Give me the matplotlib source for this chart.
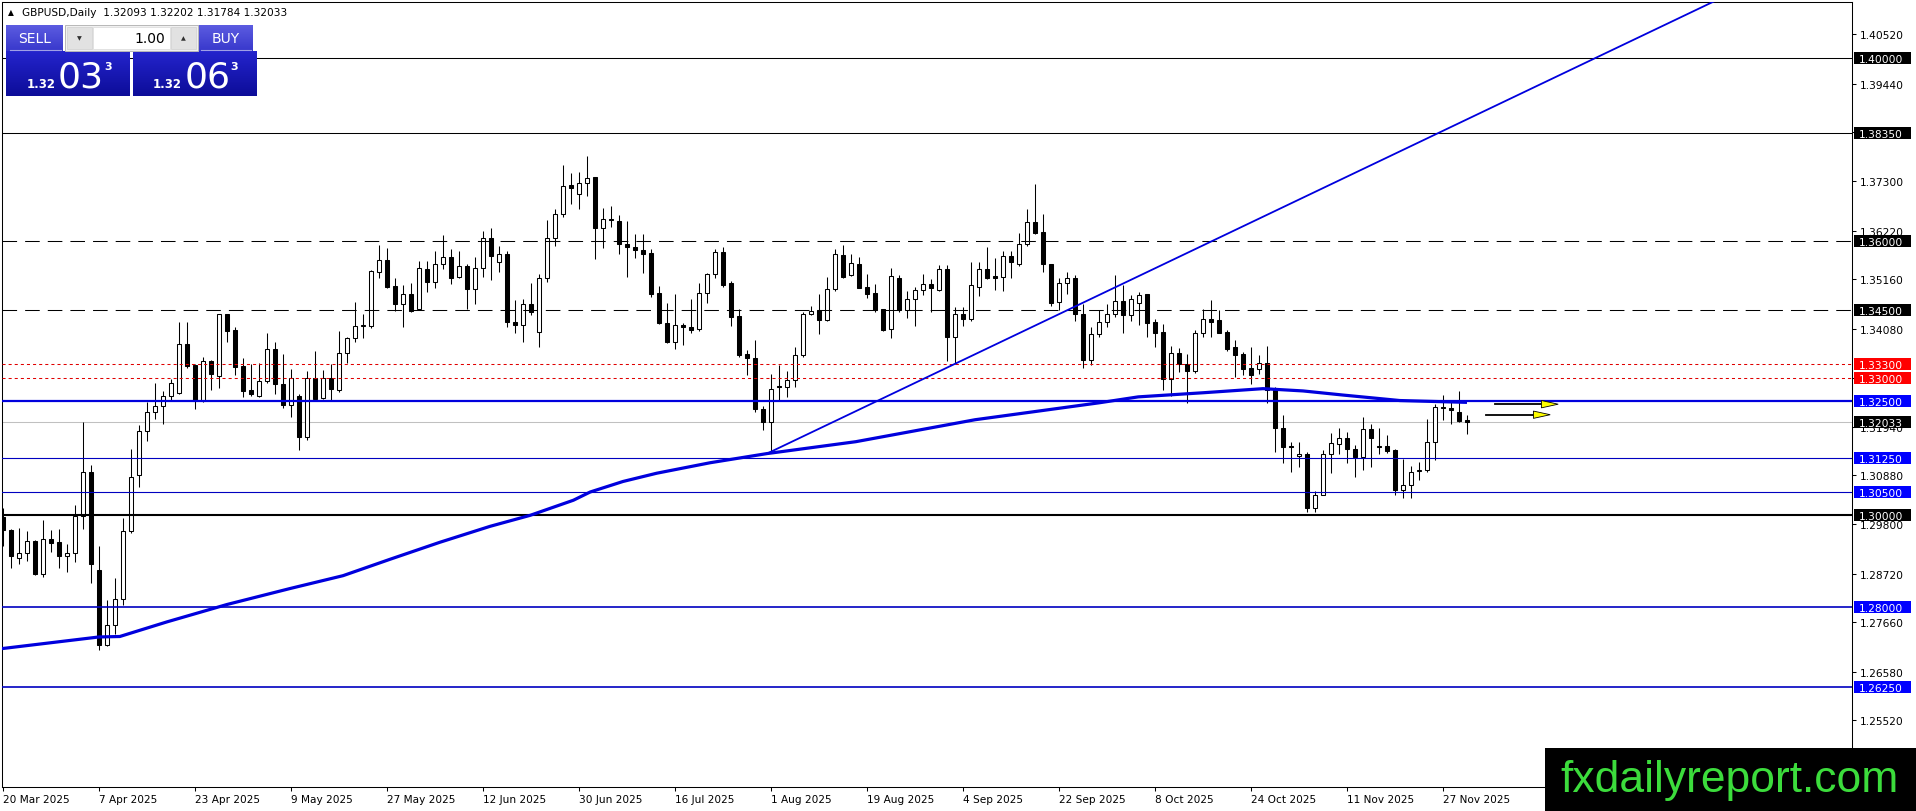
import numpy as np
import matplotlib
matplotlib.use("Agg")
import matplotlib.pyplot as plt
from matplotlib.patches import Rectangle, Polygon
from matplotlib.ticker import FormatStrFormatter

plt.rcParams['font.family'] = ['DejaVu Sans']
plt.rcParams['lines.scale_dashes'] = False

# GBPUSD daily candles, bar 0 = 20 Mar 2025 (weekdays only)
opens = [
    1.2996, 1.2967, 1.2907, 1.2918, 1.2943, 1.2872, 1.2949, 1.2942, 1.2911, 1.2918, 1.2998, 1.3095,
    1.2880, 1.2717, 1.2761, 1.2818, 1.2966, 1.3089, 1.3185, 1.3227, 1.3238, 1.3261, 1.3268, 1.3374,
    1.3328, 1.3250, 1.3337, 1.3305, 1.3440, 1.3405, 1.3326, 1.3273, 1.3262, 1.3293, 1.3364, 1.3288,
    1.3242, 1.3262, 1.3171, 1.3300, 1.3256, 1.3300, 1.3275, 1.3355, 1.3388, 1.3414, 1.3413, 1.3531,
    1.3558, 1.3502, 1.3463, 1.3485, 1.3452, 1.3538, 1.3511, 1.3549, 1.3564, 1.3521, 1.3545, 1.3494,
    1.3540, 1.3606, 1.3553, 1.3571, 1.3423, 1.3416, 1.3462, 1.3400, 1.3519, 1.3607, 1.3658, 1.3722,
    1.3702, 1.3727, 1.3739, 1.3629, 1.3649, 1.3643, 1.3594, 1.3587, 1.3580, 1.3574, 1.3487, 1.3420,
    1.3379, 1.3417, 1.3411, 1.3408, 1.3486, 1.3528, 1.3576, 1.3507, 1.3435, 1.3352, 1.3345, 1.3232,
    1.3203, 1.3282, 1.3280, 1.3296, 1.3350, 1.3441, 1.3448, 1.3427, 1.3495, 1.3570, 1.3525, 1.3549,
    1.3500, 1.3486, 1.3451, 1.3408, 1.3519, 1.3449, 1.3473, 1.3493, 1.3506, 1.3493, 1.3538, 1.3389,
    1.3440, 1.3429, 1.3500, 1.3538, 1.3524, 1.3522, 1.3567, 1.3549, 1.3593, 1.3641, 1.3620, 1.3549,
    1.3466, 1.3507, 1.3520, 1.3440, 1.3340, 1.3397, 1.3422, 1.3440, 1.3469, 1.3437, 1.3465, 1.3483,
    1.3422, 1.3401, 1.3299, 1.3354, 1.3330, 1.3316, 1.3398, 1.3430, 1.3427, 1.3400, 1.3367, 1.3352,
    1.3322, 1.3321, 1.3332, 1.3275, 1.3190, 1.3151, 1.3129, 1.3135, 1.3017, 1.3045, 1.3133, 1.3155,
    1.3169, 1.3146, 1.3128, 1.3188, 1.3151, 1.3151, 1.3142, 1.3055, 1.3067, 1.3096, 1.3100, 1.3161,
    1.3237, 1.3234, 1.3225, 1.32093,
]
highs = [
    1.3015, 1.2969, 1.2973, 1.2965, 1.2945, 1.2990, 1.2967, 1.2971, 1.2938, 1.3023, 1.3204, 1.3111,
    1.2932, 1.2814, 1.2862, 1.2995, 1.3144, 1.3198, 1.3247, 1.3290, 1.3271, 1.3299, 1.3422, 1.3422,
    1.3330, 1.3346, 1.3340, 1.3441, 1.3441, 1.3412, 1.3343, 1.3330, 1.3333, 1.3399, 1.3378, 1.3353,
    1.3320, 1.3265, 1.3315, 1.3359, 1.3318, 1.3331, 1.3402, 1.3390, 1.3467, 1.3441, 1.3536, 1.3591,
    1.3584, 1.3519, 1.3504, 1.3508, 1.3556, 1.3556, 1.3577, 1.3613, 1.3582, 1.3578, 1.3550, 1.3564,
    1.3622, 1.3629, 1.3590, 1.3577, 1.3471, 1.3473, 1.3508, 1.3527, 1.3645, 1.3669, 1.3767, 1.3749,
    1.3750, 1.3785, 1.3740, 1.3671, 1.3676, 1.3657, 1.3643, 1.3616, 1.3615, 1.3582, 1.3501, 1.3464,
    1.3484, 1.3420, 1.3473, 1.3507, 1.3530, 1.3582, 1.3587, 1.3512, 1.3451, 1.3361, 1.3384, 1.3240,
    1.3310, 1.3328, 1.3315, 1.3367, 1.3444, 1.3457, 1.3485, 1.3522, 1.3582, 1.3591, 1.3571, 1.3565,
    1.3527, 1.3506, 1.3452, 1.3540, 1.3525, 1.3491, 1.3500, 1.3527, 1.3517, 1.3548, 1.3547, 1.3456,
    1.3456, 1.3553, 1.3554, 1.3587, 1.3562, 1.3578, 1.3578, 1.3617, 1.3669, 1.3725, 1.3658, 1.3549,
    1.3518, 1.3533, 1.3525, 1.3462, 1.3411, 1.3449, 1.3462, 1.3526, 1.3504, 1.3482, 1.3489, 1.3485,
    1.3430, 1.3418, 1.3370, 1.3365, 1.3352, 1.3406, 1.3452, 1.3470, 1.3449, 1.3405, 1.3383, 1.3357,
    1.3367, 1.3350, 1.3370, 1.3281, 1.3219, 1.3161, 1.3161, 1.3139, 1.3053, 1.3142, 1.3179, 1.3190,
    1.3182, 1.3153, 1.3214, 1.3199, 1.3191, 1.3175, 1.3145, 1.3124, 1.3107, 1.3117, 1.3210, 1.3243,
    1.3264, 1.3251, 1.3272, 1.32202,
]
lows = [
    1.2934, 1.2885, 1.2893, 1.2900, 1.2870, 1.2865, 1.2920, 1.2885, 1.2876, 1.2898, 1.2969, 1.2852,
    1.2706, 1.2715, 1.2741, 1.2803, 1.2962, 1.3062, 1.3162, 1.3211, 1.3200, 1.3251, 1.3266, 1.3323,
    1.3232, 1.3248, 1.3273, 1.3279, 1.3379, 1.3306, 1.3259, 1.3260, 1.3259, 1.3290, 1.3266, 1.3235,
    1.3215, 1.3143, 1.3165, 1.3252, 1.3254, 1.3252, 1.3269, 1.3332, 1.3378, 1.3388, 1.3410, 1.3520,
    1.3497, 1.3446, 1.3412, 1.3445, 1.3450, 1.3489, 1.3498, 1.3538, 1.3505, 1.3519, 1.3452, 1.3462,
    1.3521, 1.3514, 1.3531, 1.3412, 1.3399, 1.3380, 1.3438, 1.3367, 1.3511, 1.3589, 1.3652, 1.3680,
    1.3670, 1.3698, 1.3560, 1.3584, 1.3630, 1.3572, 1.3522, 1.3562, 1.3529, 1.3478, 1.3418, 1.3377,
    1.3363, 1.3372, 1.3398, 1.3403, 1.3464, 1.3520, 1.3499, 1.3414, 1.3346, 1.3306, 1.3227, 1.3187,
    1.3140, 1.3252, 1.3258, 1.3280, 1.3346, 1.3439, 1.3397, 1.3426, 1.3491, 1.3520, 1.3523, 1.3497,
    1.3475, 1.3444, 1.3402, 1.3387, 1.3444, 1.3431, 1.3413, 1.3482, 1.3444, 1.3491, 1.3337, 1.3331,
    1.3413, 1.3424, 1.3479, 1.3517, 1.3493, 1.3491, 1.3520, 1.3546, 1.3590, 1.3616, 1.3531, 1.3458,
    1.3449, 1.3484, 1.3424, 1.3323, 1.3328, 1.3391, 1.3411, 1.3433, 1.3398, 1.3426, 1.3416, 1.3390,
    1.3368, 1.3275, 1.3260, 1.3314, 1.3246, 1.3311, 1.3390, 1.3389, 1.3398, 1.3360, 1.3303, 1.3306,
    1.3287, 1.3310, 1.3246, 1.3139, 1.3115, 1.3095, 1.3106, 1.3008, 1.3008, 1.3044, 1.3093, 1.3135,
    1.3115, 1.3083, 1.3100, 1.3106, 1.3135, 1.3137, 1.3044, 1.3037, 1.3037, 1.3078, 1.3095, 1.3121,
    1.3208, 1.3199, 1.3203, 1.31784,
]
closes = [
    1.2967, 1.2912, 1.2918, 1.2943, 1.2872, 1.2949, 1.2940, 1.2911, 1.2918, 1.2998, 1.3095, 1.2894,
    1.2717, 1.2761, 1.2818, 1.2966, 1.3084, 1.3185, 1.3227, 1.3238, 1.3261, 1.3290, 1.3375, 1.3326,
    1.3250, 1.3337, 1.3308, 1.3440, 1.3403, 1.3324, 1.3272, 1.3265, 1.3293, 1.3364, 1.3288, 1.3242,
    1.3300, 1.3171, 1.3300, 1.3254, 1.3300, 1.3276, 1.3355, 1.3388, 1.3415, 1.3416, 1.3535, 1.3558,
    1.3500, 1.3463, 1.3485, 1.3447, 1.3540, 1.3511, 1.3549, 1.3564, 1.3520, 1.3545, 1.3494, 1.3540,
    1.3607, 1.3568, 1.3571, 1.3422, 1.3416, 1.3462, 1.3444, 1.3519, 1.3607, 1.3658, 1.3721, 1.3715,
    1.3727, 1.3738, 1.3629, 1.3649, 1.3645, 1.3594, 1.3586, 1.3580, 1.3572, 1.3484, 1.3420, 1.3378,
    1.3417, 1.3411, 1.3406, 1.3486, 1.3528, 1.3576, 1.3504, 1.3433, 1.3350, 1.3345, 1.3232, 1.3203,
    1.3277, 1.3280, 1.3296, 1.3350, 1.3441, 1.3446, 1.3427, 1.3495, 1.3571, 1.3522, 1.3551, 1.3498,
    1.3485, 1.3449, 1.3405, 1.3523, 1.3449, 1.3473, 1.3493, 1.3506, 1.3498, 1.3538, 1.3389, 1.3440,
    1.3429, 1.3503, 1.3538, 1.3520, 1.3520, 1.3567, 1.3553, 1.3593, 1.3641, 1.3618, 1.3549, 1.3464,
    1.3507, 1.3520, 1.3440, 1.3340, 1.3397, 1.3422, 1.3440, 1.3469, 1.3437, 1.3473, 1.3481, 1.3421,
    1.3399, 1.3299, 1.3354, 1.3330, 1.3316, 1.3398, 1.3430, 1.3423, 1.3399, 1.3363, 1.3350, 1.3320,
    1.3307, 1.3332, 1.3275, 1.3190, 1.3150, 1.3150, 1.3135, 1.3017, 1.3045, 1.3133, 1.3158, 1.3169,
    1.3144, 1.3128, 1.3188, 1.3170, 1.3150, 1.3141, 1.3055, 1.3067, 1.3095, 1.3100, 1.3161, 1.3237,
    1.3235, 1.3230, 1.3207, 1.32033,
]

# moving average (thick blue curve), read at a few bars
ma_bars = [-0.4, 12, 14.6, 20.5, 28, 35.9, 42.5, 48.4, 54.6, 60.9, 65.9, 71.3, 73.4, 77.5,
           81.7, 88.4, 95.5, 106.6, 121.5, 137, 141.9, 150, 157.5, 162.5, 167.5, 174.6, 183]
ma_values = [1.2708, 1.2734, 1.2735, 1.2767, 1.2805, 1.2840, 1.2868, 1.2904, 1.2941, 1.2976,
             1.3000, 1.3033, 1.3051, 1.3074, 1.3092, 1.3115, 1.3135, 1.3161, 1.3209, 1.3246,
             1.3259, 1.3268, 1.3277, 1.3272, 1.3263, 1.3251, 1.3247]

# rising trend line from the 1 Aug low
trend_bars = [95.5, 220.0]
trend_values = [1.3135, 1.4175]

# horizontal levels
level_prices = [1.40000, 1.38350, 1.36000, 1.34500, 1.33300, 1.33000, 1.32500,
                1.31250, 1.30500, 1.30000, 1.28000, 1.26250]
bid_price = 1.32033
ask_price = 1.32063

price_ticks = [1.40520, 1.39440, 1.38380, 1.37300, 1.36220, 1.35160, 1.34080, 1.33000,
               1.31940, 1.30880, 1.29800, 1.28720, 1.27660, 1.26580, 1.25520]
date_bars = [0, 12, 24, 36, 48, 60, 72, 84, 96, 108, 120, 132, 144, 156, 168, 180]
date_labels = ['20 Mar 2025', '7 Apr 2025', '23 Apr 2025', '9 May 2025', '27 May 2025',
               '12 Jun 2025', '30 Jun 2025', '16 Jul 2025', '1 Aug 2025', '19 Aug 2025',
               '4 Sep 2025', '22 Sep 2025', '8 Oct 2025', '24 Oct 2025', '11 Nov 2025',
               '27 Nov 2025']

# the two yellow arrows to the right of the last candle
arrow_from = [186.5, 185.4]
arrow_to = [194.4, 193.4]
arrow_prices = [1.3243, 1.3220]

# styles per level: line colour, width, dashes, label box colour
BLUE = '#0000dd'
NAVY = '#0000c0'
level_style = {
    1.40000: ('black', 0.75, None, 'black'),
    1.38350: ('black', 0.75, None, 'black'),
    1.36000: ('black', 0.75, (10.5, 5.8), 'black'),
    1.34500: ('black', 0.75, (10.5, 5.8), 'black'),
    1.33300: ('#e00000', 0.75, (2.2, 2.2), '#ff0000'),
    1.33000: ('#e00000', 0.75, (2.2, 2.2), '#ff0000'),
    1.32500: (BLUE, 1.6, None, '#0000ff'),
    1.31250: (NAVY, 0.8, None, '#0000ff'),
    1.30500: (NAVY, 0.8, None, '#0000ff'),
    1.30000: ('black', 1.5, None, 'black'),
    1.28000: (NAVY, 1.2, None, '#0000ff'),
    1.26250: (NAVY, 1.2, None, '#0000ff'),
}

W, H, DPI = 1916, 812, 100
fig = plt.figure(figsize=(W / DPI, H / DPI), dpi=DPI, facecolor='white')

# chart area in pixels: x 2..1852, y 3..788 ; 8 px per bar
PL, PR, PT, PB = 2, 1852, 3, 788
ax = fig.add_axes([PL / W, 1 - PB / H, (PR - PL) / W, (PB - PT) / H])

x = np.arange(len(closes))
o, h, l, c = (np.array(v) for v in (opens, highs, lows, closes))
up = c >= o
ax.vlines(x, l, h, color='black', lw=0.75, zorder=2)
body_lo = np.minimum(o, c)
body_h = np.maximum(np.abs(c - o), 0.00002)
ax.bar(x, body_h, bottom=body_lo, width=0.5, color=np.where(up, 'white', 'black'),
       edgecolor='black', linewidth=0.75, zorder=3)

ax.axhline(bid_price, color='#c0c0c0', lw=0.75, zorder=1)
for p in level_prices:
    col, lw, dash, _ = level_style[p]
    line = ax.axhline(p, color=col, lw=lw, zorder=4)
    if dash is not None:
        line.set_dashes(dash)

ax.plot(ma_bars, ma_values, color=BLUE, lw=2.3, zorder=5, solid_capstyle='butt')
ax.plot(trend_bars, trend_values, color=BLUE, lw=1.3, zorder=5)

for x0, x1, p in zip(arrow_from, arrow_to, arrow_prices):
    ax.plot([x0, x1 - 2.0], [p, p], color='black', lw=1.3, zorder=6)
    ax.add_patch(Polygon([[x1 - 2.1, p + 0.0008], [x1, p], [x1 - 2.1, p - 0.0008]],
                         closed=True, facecolor='#ffff00', edgecolor='black', lw=0.6, zorder=7))

ax.yaxis.tick_right()
ax.set_yticks(price_ticks)
ax.yaxis.set_major_formatter(FormatStrFormatter('%.5f'))
ax.tick_params(axis='y', direction='out', length=3, width=0.75, pad=2.5, labelsize=7.7)
ax.set_xticks(date_bars)
ax.set_xticklabels(date_labels, ha='left')
ax.tick_params(axis='x', direction='out', length=3, width=0.75, pad=2, labelsize=7.6)
for sp in ax.spines.values():
    sp.set_linewidth(0.75)
ax.set_xlim(-0.125, 231.125)
ax.set_ylim(1.24059, 1.41225)

# overlay in pixel coordinates for labels, trade panel and watermark
ov = fig.add_axes([0, 0, 1, 1], zorder=10)
ov.axis('off')


def px_y(price):
    return H - ax.transData.transform((0, price))[1]


for p in level_prices + [bid_price]:
    box = level_style[p][3] if p in level_style else 'black'
    y = px_y(p)
    ov.add_patch(Rectangle((1854, y - 6), 57, 12, facecolor=box, edgecolor='none', zorder=11))
    ov.text(1858.5, y, f"{p:.5f}", color='white', fontsize=7.7, va='center_baseline',
            ha='left', zorder=12)

ov.text(11, 12.5, '\u25b2', fontsize=5.5, ha='center', va='center')
ov.text(22, 13, f"GBPUSD,Daily  {opens[-1]:.5f} {highs[-1]:.5f} {lows[-1]:.5f} {closes[-1]:.5f}",
        fontsize=7.6, va='center', ha='left')


def grad_box(x0, y0, x1, y1, top, bottom):
    g = np.linspace(0, 1, 32)[:, None, None]
    img = (1 - g) * np.array(top)[None, None, :] + g * np.array(bottom)[None, None, :]
    ov.imshow(img, extent=(x0, x1, y1, y0), origin='upper', aspect='auto',
              interpolation='bilinear', zorder=11)


btn_top, btn_bot = (0.36, 0.36, 0.88), (0.22, 0.22, 0.80)
big_top, big_bot = (0.14, 0.14, 0.80), (0.05, 0.05, 0.60)
grad_box(6, 26, 63, 52, btn_top, btn_bot)
grad_box(198, 26, 253, 52, btn_top, btn_bot)
grad_box(6, 52, 130, 97, big_top, big_bot)
grad_box(133, 52, 257, 97, big_top, big_bot)
ov.plot([10, 61], [50.5, 50.5], color='#a0a0e6', lw=0.8, zorder=12)
ov.plot([201, 251], [50.5, 50.5], color='#a0a0e6', lw=0.8, zorder=12)

ov.add_patch(Rectangle((65, 26), 133, 26, facecolor='#f0f0f0', edgecolor='#b8b8b8', lw=0.7, zorder=11))
ov.add_patch(Rectangle((67, 28), 25, 22, facecolor='#e2e2e2', edgecolor='#d0d0d0', lw=0.5, zorder=12))
ov.add_patch(Rectangle((171, 28), 25, 22, facecolor='#e2e2e2', edgecolor='#d0d0d0', lw=0.5, zorder=12))
ov.add_patch(Rectangle((93, 28), 77, 22, facecolor='white', edgecolor='#dadada', lw=0.5, zorder=12))
ov.text(79.5, 39, '\u25bc', fontsize=4.5, ha='center', va='center', color='#303030', zorder=13)
ov.text(183.5, 38.5, '\u25b2', fontsize=4.5, ha='center', va='center', color='#303030', zorder=13)
ov.text(165, 39, '1.00', fontsize=10, ha='right', va='center', color='black', zorder=13)
ov.text(34.5, 39, 'SELL', fontsize=10, ha='center', va='center', color='white', zorder=13)
ov.text(225.5, 39, 'BUY', fontsize=10, ha='center', va='center', color='white', zorder=13)

for quote, xs in ((bid_price, (27, 58, 104)), (ask_price, (153, 185, 230))):
    s = f"{quote:.5f}"
    ov.text(xs[0], 88, s[:4], fontsize=8.5, fontweight='bold', color='white', va='baseline', zorder=13)
    ov.text(xs[1], 88, s[4:6], fontsize=26, color='white', va='baseline', zorder=13)
    ov.text(xs[2], 70, s[6], fontsize=8, fontweight='bold', color='white', va='baseline', zorder=13)

# watermark
ov.add_patch(Rectangle((1545, 749), W - 1545, H - 749, facecolor='black', edgecolor='none', zorder=14))
wm = ov.text(1560, 792, 'fxdailyreport.com', color='#3cdc3c', fontsize=40,
             family=['Liberation Sans Narrow', 'Liberation Sans', 'DejaVu Sans'],
             va='baseline', ha='left', zorder=15)

ov.set_xlim(0, W)
ov.set_ylim(H, 0)
fig.canvas.draw()
wm_w = wm.get_window_extent().width
wm.set_fontsize(40 * 338 / wm_w)

fig.savefig('out.png', dpi=DPI, facecolor='white')
